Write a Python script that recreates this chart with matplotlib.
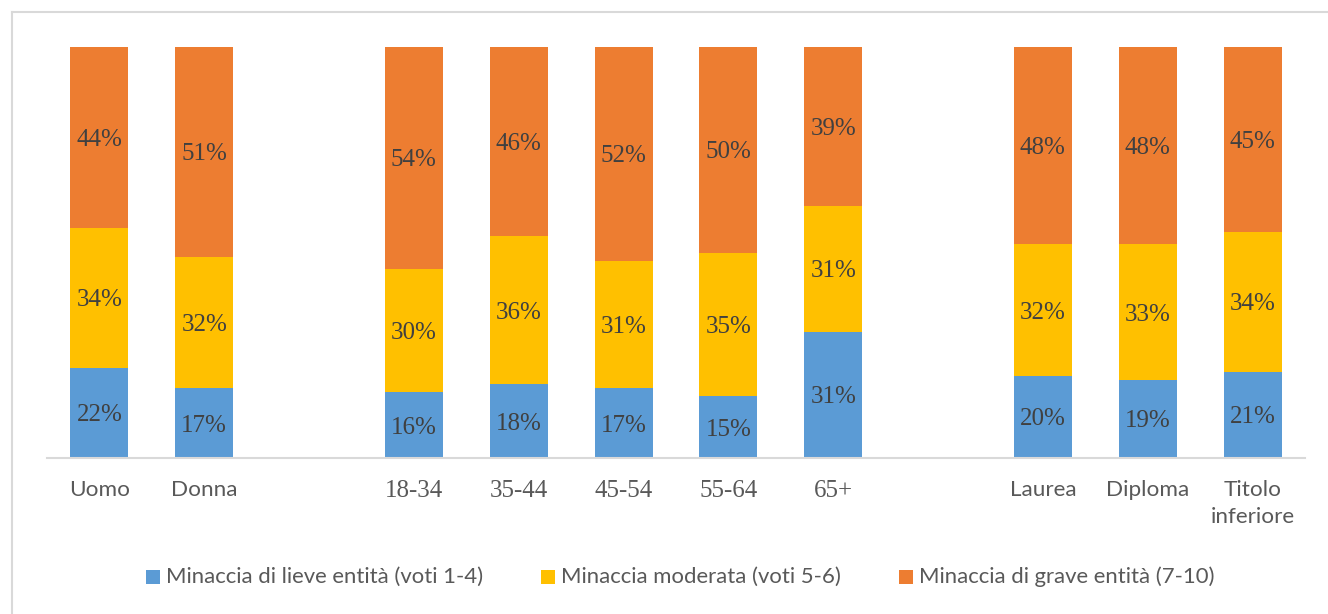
import matplotlib
matplotlib.use("Agg")
import matplotlib.pyplot as plt
from matplotlib.patches import Rectangle
from matplotlib.lines import Line2D
import numpy as np

categories = ["Uomo", "Donna", "", "18-34", "35-44", "45-54", "55-64", "65+", "", "Laurea", "Diploma", "Titolo\ninferiore"]
lieve =    [22, 17, None, 16, 18, 17, 15, 31, None, 20, 19, 21]
moderata = [34, 32, None, 30, 36, 31, 35, 31, None, 32, 33, 34]
grave =    [44, 51, None, 54, 46, 52, 50, 39, None, 48, 48, 45]
series_names = ["Minaccia di lieve entità (voti 1-4)",
                "Minaccia moderata (voti 5-6)",
                "Minaccia di grave entità (7-10)"]
colors = ["#5b9bd5", "#ffc000", "#ed7d31"]

SANS = ["Lato", "DejaVu Sans"]
SERIF = ["Liberation Serif", "DejaVu Serif"]
TXT = "#595959"

W, H = 1328, 614
fig = plt.figure(figsize=(W / 100, H / 100), dpi=100)
ax = fig.add_axes([47 / W, (H - 458) / H, (1305 - 47) / W, (458 - 47) / H])

x = np.arange(len(categories))
idx = [i for i, v in enumerate(lieve) if v is not None]
totals = {i: lieve[i] + moderata[i] + grave[i] for i in idx}
bottoms = {i: 0.0 for i in idx}
for vals, col in zip([lieve, moderata, grave], colors):
    xs = [x[i] for i in idx]
    hs = [vals[i] / totals[i] for i in idx]
    bs = [bottoms[i] for i in idx]
    ax.bar(xs, hs, bottom=bs, width=0.553, color=col, edgecolor="none")
    for i, h, b in zip(idx, hs, bs):
        ax.text(x[i], b + h / 2, f"{vals[i]}%", ha="center", va="center_baseline",
                fontsize=18, family=SERIF, color="#404040")
        bottoms[i] += h

ax.set_xlim(-0.5, len(categories) - 0.5)
ax.set_ylim(0, 1)
ax.set_yticks([])
for s in ["top", "right", "left"]:
    ax.spines[s].set_visible(False)
ax.spines["bottom"].set_color("#d9d9d9")
ax.spines["bottom"].set_linewidth(1.5)
ax.set_xticks(x)
ax.set_xticklabels(categories)
ax.tick_params(axis="x", length=0, pad=16)
for lab in ax.get_xticklabels():
    t = lab.get_text()
    if t and t[0].isdigit():
        lab.set_family(SERIF)
        lab.set_fontsize(18)
    else:
        lab.set_family(SANS)
        lab.set_fontsize(16.2)
    lab.set_color(TXT)
    lab.set_linespacing(1.45)

# legend
leg_sq_x = [146, 541, 899]
leg_y = 577
sq = 14
for name, col, sx in zip(series_names, colors, leg_sq_x):
    fig.patches.append(Rectangle((sx / W, (H - leg_y - sq / 2) / H), sq / W, sq / H,
                                 transform=fig.transFigure, facecolor=col, edgecolor="none"))
    fig.text((sx + sq + 6) / W, (H - leg_y) / H, name, ha="left", va="center",
             fontsize=15.9, family=SANS, color=TXT)

# chart border (partially visible)
fig.add_artist(Line2D([12 / W, 1], [1 - 12 / H, 1 - 12 / H], transform=fig.transFigure,
                      color="#d9d9d9", lw=1.5))
fig.add_artist(Line2D([12 / W, 12 / W], [0, 1 - 12 / H], transform=fig.transFigure,
                      color="#d9d9d9", lw=1.5))

fig.savefig("out.png", dpi=100)
